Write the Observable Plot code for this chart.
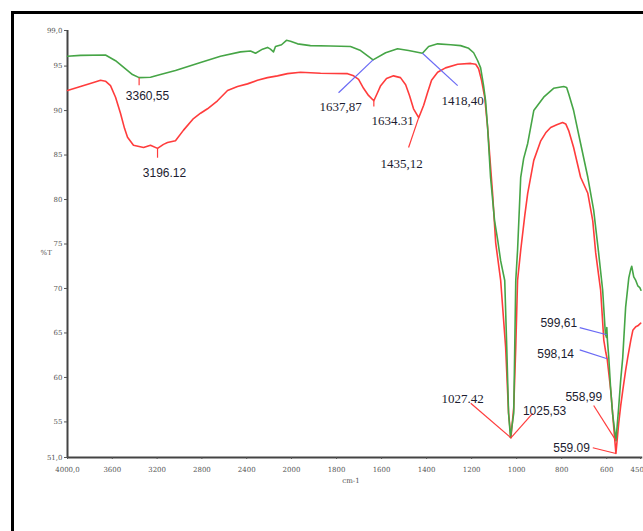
<!DOCTYPE html>
<html><head><meta charset="utf-8">
<script src="https://cdn.jsdelivr.net/npm/d3@7"></script>
<script src="https://cdn.jsdelivr.net/npm/@observablehq/plot@0.6"></script>
<style>
html,body{margin:0;padding:0;background:#fff;overflow:hidden;width:643px;height:531px;}
#wrap{position:relative;width:643px;height:531px;overflow:hidden;}
#frame{position:absolute;left:11px;top:11px;width:800px;height:800px;border:3px solid #000;}
#chart{position:absolute;left:0;top:0;}
</style></head><body>
<div id="wrap"><div id="frame"></div><div id="chart"></div></div>
<script>
// ---- data ----
const xTicks = [4000,3600,3200,2800,2400,2000,1800,1600,1400,1200,1000,800,600,450];
const xTickLabels = ["4000,0","3600","3200","2800","2400","2000","1800","1600","1400","1200","1000","800","600","450,0"];
const yTicks = [51,55,60,65,70,75,80,85,90,95,99];
const yTickLabels = ["51,0","55","60","65","70","75","80","85","90","95","99,0"];

const greenWn = [4000,3884,3661,3571,3482,3420,3360.55,3259,3170,3036,2812,2634,2455,2366,2321,2259,2214,2188,2161,2143,2089,2045,2009,1973,1916,1827,1738,1693,1637.87,1582,1529,1480,1418.40,1391,1351,1293,1249,1213,1191,1173,1160,1147,1138,1129,1116,1098,1084,1071,1053,1044,1036,1027.42,1013,1004,996,982,969,951,924,880,836,791,778,769,747,716,684,658,636,618,606,601,599.61,597,591,582,573,558.99,547,538,529,516,502,493,489,480,471,462,453,448];
const greenT = [96.1,96.2,96.25,95.6,94.7,94.05,93.7,93.75,94.05,94.5,95.4,96.1,96.6,96.7,96.45,96.9,97.1,96.9,96.6,97.2,97.4,97.9,97.8,97.5,97.3,97.25,97.2,96.75,95.7,96.5,96.95,96.75,96.45,97.2,97.5,97.4,97.3,97.0,96.5,95.6,94.8,92.8,91.1,88.1,82.5,77.6,75.4,73.1,70.9,63.4,56.0,53.25,56.0,70.9,74.3,82.5,84.6,86.3,90.0,91.5,92.5,92.7,92.6,91.9,90.0,86.3,82.5,78.8,74.0,69.8,64.9,64.5,65.6,64.2,62.3,58.5,55.7,52.9,56.6,59.7,62.2,67.9,71.2,72.2,72.5,71.3,70.9,70.3,70.1,69.8];

const redWn = [4000,3884,3768,3705,3661,3616,3571,3527,3491,3464,3411,3321,3259,3196.12,3143,3107,3036,2964,2875,2812,2750,2661,2571,2482,2393,2304,2214,2125,2036,1960,1871,1751,1724,1702,1680,1658,1634.31,1618,1604,1578,1547,1516,1493,1476,1458,1435.12,1427,1413,1396,1378,1351,1316,1262,1204,1182,1169,1156,1142,1129,1107,1093,1071,1049,1036,1025.53,1013,1004,996,982,964,951,924,893,871,849,822,796,782,769,747,716,684,662,649,636,627,613,604,598.14,582,573,564,559.09,547,538,529,516,507,493,484,471,462,449];
const redT = [92.25,92.7,93.15,93.4,93.3,92.8,91.5,89.7,88.0,87.0,86.1,85.85,86.1,85.75,86.2,86.4,86.6,87.8,89.1,89.7,90.2,91.1,92.25,92.7,93.0,93.4,93.7,93.9,94.15,94.3,94.2,94.15,93.9,93.5,92.5,91.7,91.1,92.0,92.8,93.6,93.9,93.7,92.9,91.7,90.2,89.2,89.7,90.6,92.0,93.4,94.3,94.8,95.2,95.3,95.2,94.7,93.4,91.5,88.1,80.7,75.1,70.9,63.4,56.0,53.2,56.6,63.4,70.9,74.3,78.2,80.7,84.4,86.6,87.5,88.1,88.4,88.65,88.5,87.75,85.85,82.5,80.7,77.6,74.0,71.5,69.8,64.2,62.8,62.1,58.5,55.7,52.9,51.45,54.8,56.8,58.5,60.8,62.2,64.2,65.3,65.7,65.8,66.1];

// annotation labels (positions in data units: wavenumber, %T)
const annText = ["3360,55","3196.12","1637,87","1634.31","1435,12","1418,40","1027.42","1025,53","599,61","598,14","558,99","559.09"];
const annWn   = [3286,3134,1782,1551,1511,1240,1240,876,813,827,702,756];
const annT    = [91.6,83.0,90.45,88.8,84.05,91.1,57.6,56.2,66.1,62.6,57.75,52.1];

// leader lines [wn1, T1, wn2, T2]
const redLeaders = [
  [3360.55,93.7,3360.55,92.85],
  [3196.12,85.75,3196.12,84.7],
  [1634.31,91.1,1634.31,90.45],
  [1435.12,89.2,1480,85.85],
  [1204,57.1,1027.42,53.25],
  [929,55.95,1025.53,53.2],
  [658,56.85,558.99,52.9],
  [662,52.1,559.09,51.45]
];
const blueLeaders = [
  [1791,92.0,1637.87,95.7],
  [1418.40,96.45,1262,92.8],
  [720,65.6,599.61,64.8],
  [720,63.1,598.14,62.1]
];

// ---- build ----
const green = greenWn.map((w,i)=>({wn:w,t:greenT[i]}));
const red = redWn.map((w,i)=>({wn:w,t:redT[i]}));
const ann = annText.map((s,i)=>({s, wn:annWn[i], t:annT[i]}));
const serifSet = new Set(["1637,87","1634.31","1435,12","1418,40","1027.42"]);
const toSeg = a => a.map(([x1,y1,x2,y2])=>({x1,y1,x2,y2}));
const xLab = new Map(xTicks.map((t,i)=>[t,xTickLabels[i]]));
const yLab = new Map(yTicks.map((t,i)=>[t,yTickLabels[i]]));

const GREEN = "#46a546", RED = "#ff3c3c", BLUE = "#6a6af5", TXT = "#1c1c30";

const chart = Plot.plot({
  width: 643, height: 531,
  marginLeft: 67, marginRight: 3, marginTop: 30, marginBottom: 74,
  style: {background: "transparent", overflow: "visible"},
  x: {type: "linear", domain: [4000, 2000, 450], range: [67, 291, 640]},
  y: {domain: [51, 99]},
  marks: [
    Plot.ruleY([51], {x1: 4000, x2: 440, stroke: "#444", strokeWidth: 2}),
    Plot.ruleX([4000], {y1: 51, y2: 99, stroke: "#444", strokeWidth: 2}),
    Plot.axisX({ticks: xTicks, tickFormat: d => xLab.get(d), tickSize: 2, tickPadding: 8,
      fontSize: 7, fontFamily: "DejaVu Serif", color: "#555", label: null}),
    Plot.axisY({ticks: yTicks, tickFormat: d => yLab.get(d), tickSize: 3, tickPadding: 2,
      fontSize: 7, fontFamily: "DejaVu Serif", color: "#555", label: null}),
    Plot.text(["%T"], {frameAnchor: "left", dx: -27, dy: 9, fontSize: 7, fontFamily: "DejaVu Serif", fill: "#555"}),
    Plot.text(["cm-1"], {frameAnchor: "bottom", dx: -3, dy: 25, fontSize: 7, fontFamily: "DejaVu Serif", fill: "#555"}),
    Plot.line(red, {x: "wn", y: "t", stroke: RED, strokeWidth: 1.6}),
    Plot.line(green, {x: "wn", y: "t", stroke: GREEN, strokeWidth: 1.6}),
    Plot.link(toSeg(redLeaders), {x1: "x1", y1: "y1", x2: "x2", y2: "y2", stroke: RED, strokeWidth: 1.2}),
    Plot.link(toSeg(blueLeaders), {x1: "x1", y1: "y1", x2: "x2", y2: "y2", stroke: BLUE, strokeWidth: 1.2}),
    Plot.text(ann.filter(d => !serifSet.has(d.s)), {x: "wn", y: "t", text: "s", fontSize: 12,
      fontFamily: "Liberation Sans, Arial, sans-serif", fill: TXT}),
    Plot.text(ann.filter(d => serifSet.has(d.s)), {x: "wn", y: "t", text: "s", fontSize: 13,
      fontFamily: "Liberation Serif, Times New Roman, serif", fill: TXT})
  ]
});
document.getElementById("chart").appendChild(chart);
</script>
</body></html>
